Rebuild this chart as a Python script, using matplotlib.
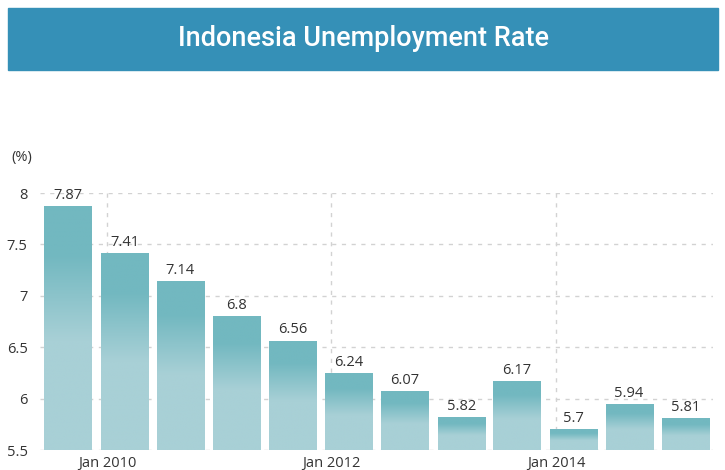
import numpy as np
import pandas as pd
import matplotlib as mpl
mpl.use("Agg")
import matplotlib.pyplot as plt
from matplotlib.patches import Rectangle

BANNER = "#3590b7"
DARK = np.array([114, 184, 192]) / 255
LIGHT = np.array([168, 208, 214]) / 255
GRID = "#d2d2d2"
TEXT = "#333333"

periods = ["2009-08", "2010-02", "2010-08", "2011-02", "2011-08", "2012-02",
           "2012-08", "2013-02", "2013-08", "2014-02", "2014-08", "2015-02"]
rate = [7.87, 7.41, 7.14, 6.8, 6.56, 6.24, 6.07, 5.82, 6.17, 5.7, 5.94, 5.81]
yticks = [5.5, 6, 6.5, 7, 7.5, 8]
ytick_labels = ["5.5", "6", "6.5", "7", "7.5", "8"]
xticks = ["2010-01-01", "2012-01-01", "2014-01-01"]
xtick_labels = ["Jan 2010", "Jan 2012", "Jan 2014"]

mpl.rcParams.update({
    "font.family": ["Open Sans", "DejaVu Sans"],
    "figure.dpi": 100,
})


def gradient(n=300):
    # dark teal at the top of each bar fading to the pale colour lower down
    t = np.linspace(0, 1, n)
    k = np.clip((t - 0.2) / 0.35, 0, 1)[:, None]
    return (DARK * (1 - k) + LIGHT * k)[:, None, :]


fig = plt.figure(figsize=(7.25, 4.7))
fig.patches.append(Rectangle((8 / 725, 1 - 70 / 470), 710 / 725, 62 / 470,
                             transform=fig.transFigure, color=BANNER, zorder=0))
fig.text(364 / 725, 1 - 39 / 470, "Indonesia Unemployment Rate", color="white",
         fontsize=19.5, fontweight="medium", family=["Roboto", "DejaVu Sans"],
         ha="center", va="center")

ax = fig.add_axes([40 / 725, 20 / 470, 673 / 725, 257 / 470])
x = pd.to_datetime(periods) + pd.Timedelta(days=26)
bars = ax.bar(x, [r - 5.5 for r in rate], bottom=5.5, width=153,
              color=LIGHT, zorder=2)
grad = gradient()
for b, r in zip(bars, rate):
    x0 = b.get_x()
    ax.imshow(grad, extent=(x0, x0 + b.get_width(), 5.5, r), aspect="auto",
              origin="upper", zorder=3, interpolation="bilinear")
    ax.text(x0 + b.get_width() / 2, r + 0.035, f"{r:g}", ha="center", va="bottom",
            fontsize=10.5, color=TEXT, zorder=4)

ax.set_xlim(pd.Timestamp("2009-05-28"), pd.Timestamp("2015-05-27"))
ax.set_ylim(5.5, 8.0)
ax.set_yticks(yticks)
ax.set_yticklabels(ytick_labels)
ax.set_xticks(pd.to_datetime(xticks))
ax.set_xticklabels(xtick_labels)
ax.tick_params(length=0, labelsize=10.5, labelcolor=TEXT)
ax.tick_params(axis="y", pad=9)
ax.tick_params(axis="x", pad=4)
ax.grid(True, color=GRID, ls=(0, (3, 4)), lw=1, zorder=1)
for s in ax.spines.values():
    s.set_visible(False)
ax.set_axisbelow(True)
fig.text(11 / 725, 1 - 158 / 470, "(%)", fontsize=10.5, color=TEXT, va="center")

fig.savefig("out.png", dpi=100, facecolor="white")
